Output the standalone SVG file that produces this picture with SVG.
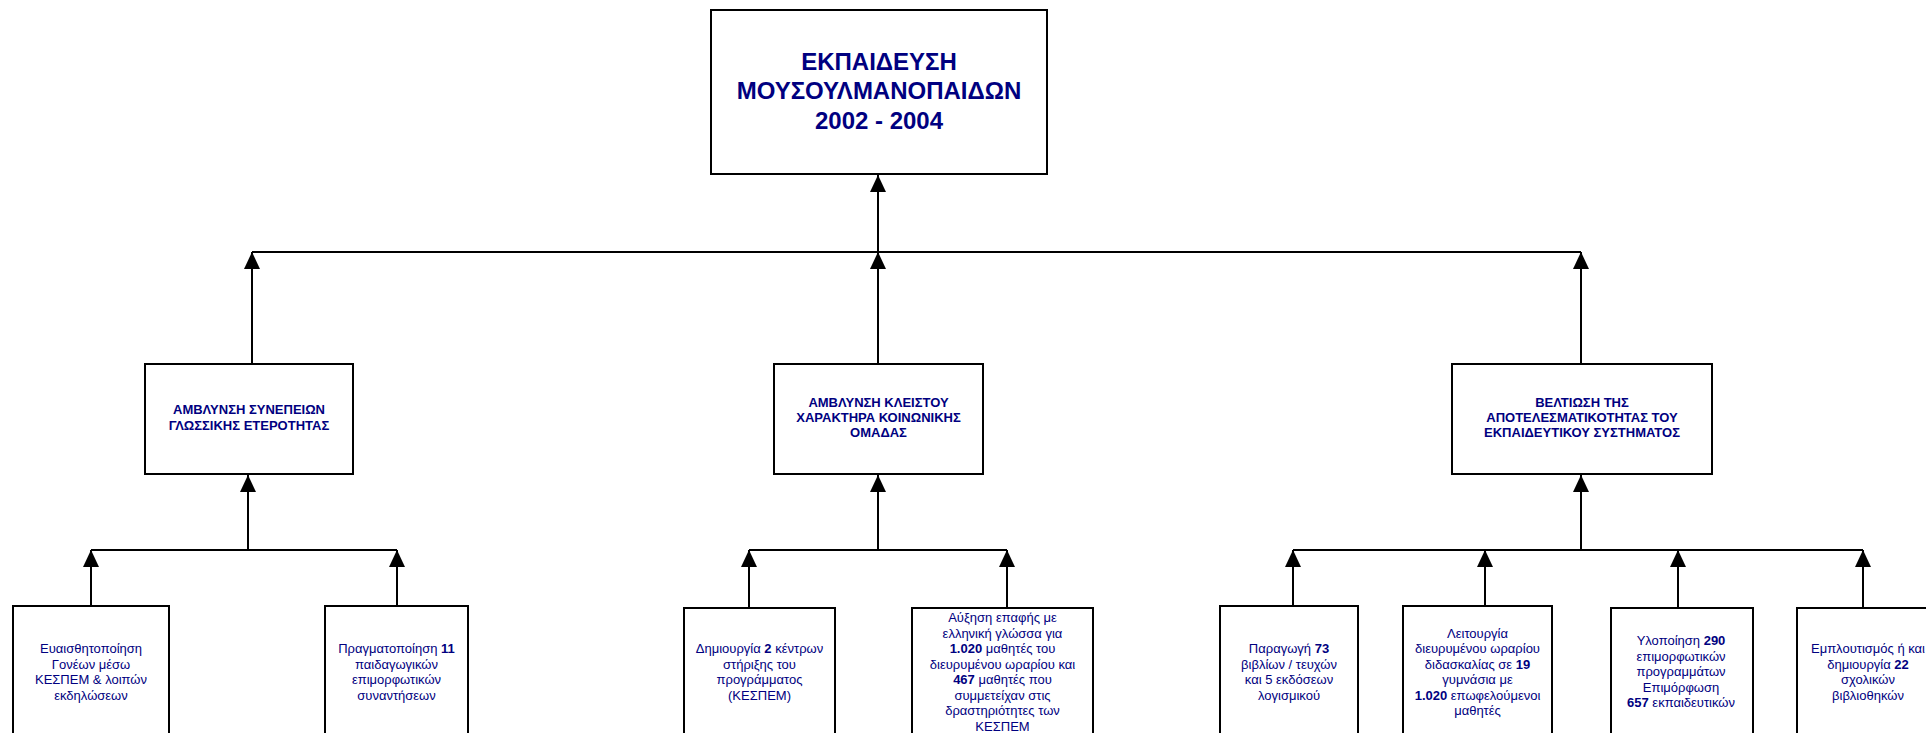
<svg xmlns="http://www.w3.org/2000/svg" width="1926" height="733" viewBox="0 0 1926 733">
<style>
.box{fill:#fff;stroke:#000;stroke-width:2}
.ln{fill:none;stroke:#000;stroke-width:2}
.t0{font-family:"Liberation Sans",Arial,sans-serif;font-weight:bold;font-size:24px;fill:#000080;text-anchor:middle}
.t1{font-family:"Liberation Sans",Arial,sans-serif;font-weight:bold;font-size:13px;fill:#000080;text-anchor:middle}
.t2{font-family:"Liberation Sans",Arial,sans-serif;font-size:13px;fill:#000080;text-anchor:middle}
.b{font-weight:bold}
</style>
<defs>
<marker id="ah" markerUnits="userSpaceOnUse" markerWidth="17" markerHeight="16" refX="17" refY="8" orient="auto" viewBox="0 0 17 16">
<path d="M0,0 L17,8 L0,16 z" fill="#000"/>
</marker>
</defs>
<rect width="1926" height="733" fill="#fff"/>
<g id="connectors">
<path class="ln" d="M252,252 H1581"/>
<path class="ln" d="M878,252 V175" marker-end="url(#ah)"/>
<path class="ln" d="M252,364 V252" marker-end="url(#ah)"/>
<path class="ln" d="M878,364 V252" marker-end="url(#ah)"/>
<path class="ln" d="M1581,364 V252" marker-end="url(#ah)"/>
<path class="ln" d="M91,550 H397"/>
<path class="ln" d="M248,550 V475" marker-end="url(#ah)"/>
<path class="ln" d="M91,606 V550" marker-end="url(#ah)"/>
<path class="ln" d="M397,606 V550" marker-end="url(#ah)"/>
<path class="ln" d="M749,550 H1007"/>
<path class="ln" d="M878,550 V475" marker-end="url(#ah)"/>
<path class="ln" d="M749,608 V550" marker-end="url(#ah)"/>
<path class="ln" d="M1007,608 V550" marker-end="url(#ah)"/>
<path class="ln" d="M1293,550 H1863"/>
<path class="ln" d="M1581,550 V475" marker-end="url(#ah)"/>
<path class="ln" d="M1293,606 V550" marker-end="url(#ah)"/>
<path class="ln" d="M1485,606 V550" marker-end="url(#ah)"/>
<path class="ln" d="M1678,608 V550" marker-end="url(#ah)"/>
<path class="ln" d="M1863,608 V550" marker-end="url(#ah)"/>
</g>
<g id="root">
<rect class="box" x="711" y="10" width="336" height="164"/>
<text class="t0"><tspan x="879" y="70">ΕΚΠΑΙΔΕΥΣΗ</tspan><tspan x="879" y="99">ΜΟΥΣΟΥΛΜΑΝΟΠΑΙΔΩΝ</tspan><tspan x="879" y="129">2002 - 2004</tspan></text>
</g>
<g id="goalA">
<rect class="box" x="145" y="364" width="208" height="110"/>
<text class="t1"><tspan x="249" y="414">ΑΜΒΛΥΝΣΗ ΣΥΝΕΠΕΙΩΝ</tspan><tspan x="249" y="430">ΓΛΩΣΣΙΚΗΣ ΕΤΕΡΟΤΗΤΑΣ</tspan></text>
</g>
<g id="goalB">
<rect class="box" x="774" y="364" width="209" height="110"/>
<text class="t1"><tspan x="878.5" y="407">ΑΜΒΛΥΝΣΗ ΚΛΕΙΣΤΟΥ</tspan><tspan x="878.5" y="422">ΧΑΡΑΚΤΗΡΑ ΚΟΙΝΩΝΙΚΗΣ</tspan><tspan x="878.5" y="437">ΟΜΑΔΑΣ</tspan></text>
</g>
<g id="goalC">
<rect class="box" x="1452" y="364" width="260" height="110"/>
<text class="t1"><tspan x="1582" y="407">ΒΕΛΤΙΩΣΗ ΤΗΣ</tspan><tspan x="1582" y="422">ΑΠΟΤΕΛΕΣΜΑΤΙΚΟΤΗΤΑΣ ΤΟΥ</tspan><tspan x="1582" y="437">ΕΚΠΑΙΔΕΥΤΙΚΟΥ ΣΥΣΤΗΜΑΤΟΣ</tspan></text>
</g>
<g id="d1">
<rect class="box" x="13" y="606" width="156" height="140"/>
<text class="t2"><tspan x="91" y="653">Ευαισθητοποίηση</tspan><tspan x="91" y="668.5">Γονέων μέσω</tspan><tspan x="91" y="684">ΚΕΣΠΕΜ &amp; λοιπών</tspan><tspan x="91" y="699.5">εκδηλώσεων</tspan></text>
</g>
<g id="d2">
<rect class="box" x="325" y="606" width="143" height="140"/>
<text class="t2"><tspan x="396.5" y="653">Πραγματοποίηση <tspan class="b">11</tspan></tspan><tspan x="396.5" y="668.5">παιδαγωγικών</tspan><tspan x="396.5" y="684">επιμορφωτικών</tspan><tspan x="396.5" y="699.5">συναντήσεων</tspan></text>
</g>
<g id="e1">
<rect class="box" x="684" y="608" width="151" height="140"/>
<text class="t2"><tspan x="759.5" y="653">Δημιουργία <tspan class="b">2</tspan> κέντρων</tspan><tspan x="759.5" y="668.5">στήριξης του</tspan><tspan x="759.5" y="684">προγράμματος</tspan><tspan x="759.5" y="699.5">(ΚΕΣΠΕΜ)</tspan></text>
</g>
<g id="e2">
<rect class="box" x="912" y="608" width="181" height="140"/>
<text class="t2"><tspan x="1002.5" y="622">Αύξηση επαφής με</tspan><tspan x="1002.5" y="637.5">ελληνική γλώσσα για</tspan><tspan x="1002.5" y="653"><tspan class="b">1.020</tspan> μαθητές του</tspan><tspan x="1002.5" y="668.5">διευρυμένου ωραρίου και</tspan><tspan x="1002.5" y="684"><tspan class="b">467</tspan> μαθητές που</tspan><tspan x="1002.5" y="699.5">συμμετείχαν στις</tspan><tspan x="1002.5" y="715">δραστηριότητες των</tspan><tspan x="1002.5" y="730.5">ΚΕΣΠΕΜ</tspan></text>
</g>
<g id="f1">
<rect class="box" x="1220" y="606" width="138" height="140"/>
<text class="t2"><tspan x="1289" y="653">Παραγωγή <tspan class="b">73</tspan></tspan><tspan x="1289" y="668.5">βιβλίων / τευχών</tspan><tspan x="1289" y="684">και 5 εκδόσεων</tspan><tspan x="1289" y="699.5">λογισμικού</tspan></text>
</g>
<g id="f2">
<rect class="box" x="1403" y="606" width="149" height="140"/>
<text class="t2"><tspan x="1477.5" y="637.5">Λειτουργία</tspan><tspan x="1477.5" y="653">διευρυμένου ωραρίου</tspan><tspan x="1477.5" y="668.5">διδασκαλίας σε <tspan class="b">19</tspan></tspan><tspan x="1477.5" y="684">γυμνάσια με</tspan><tspan x="1477.5" y="699.5"><tspan class="b">1.020</tspan> επωφελούμενοι</tspan><tspan x="1477.5" y="715">μαθητές</tspan></text>
</g>
<g id="f3">
<rect class="box" x="1611" y="608" width="142" height="140"/>
<text class="t2"><tspan x="1681" y="645.25">Υλοποίηση <tspan class="b">290</tspan></tspan><tspan x="1681" y="660.75">επιμορφωτικών</tspan><tspan x="1681" y="676.25">προγραμμάτων</tspan><tspan x="1681" y="691.75">Επιμόρφωση</tspan><tspan x="1681" y="707.25"><tspan class="b">657</tspan> εκπαιδευτικών</tspan></text>
</g>
<g id="f4">
<rect class="box" x="1797" y="608" width="142" height="140"/>
<text class="t2"><tspan x="1868" y="653">Εμπλουτισμός ή και</tspan><tspan x="1868" y="668.5">δημιουργία <tspan class="b">22</tspan></tspan><tspan x="1868" y="684">σχολικών</tspan><tspan x="1868" y="699.5">βιβλιοθηκών</tspan></text>
</g>
</svg>
